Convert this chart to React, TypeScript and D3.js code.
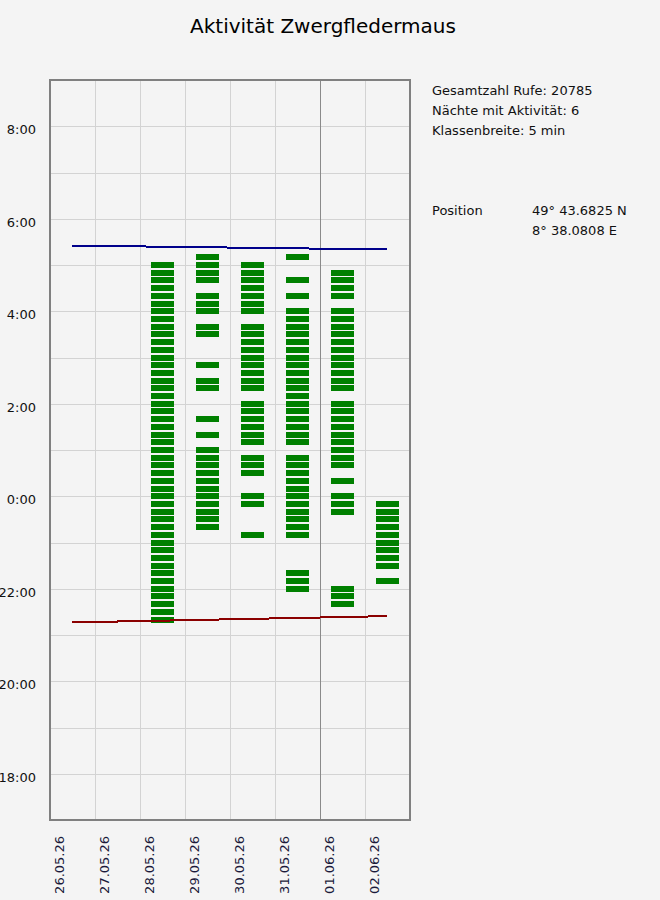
import React, { useEffect, useRef } from "react";
import * as d3 from "d3";

// nights (evening date), one column each
const NIGHTS = ["26.05.26", "27.05.26", "28.05.26", "29.05.26", "30.05.26", "31.05.26", "01.06.26", "02.06.26"];

// sunrise (next morning) / sunset, minutes after midnight
const SUNRISE = [325.2, 324.5, 323.7, 323.0, 322.3, 321.6, 320.8, 320.1];
const SUNSET = [1276.3, 1277.5, 1278.6, 1279.8, 1281.0, 1282.1, 1283.3, 1284.5];

// classes with calls per night
const ACT_2605: string[] = [];
const ACT_2705: string[] = [];
const ACT_2805 = [
  "5:00", "4:50", "4:40", "4:30", "4:20", "4:10", "4:00", "3:50", "3:40", "3:30", "3:20", "3:10",
  "3:00", "2:50", "2:40", "2:30", "2:20", "2:10", "2:00", "1:50", "1:40", "1:30", "1:20", "1:10",
  "1:00", "0:50", "0:40", "0:30", "0:20", "0:10", "0:00", "23:50", "23:40", "23:30", "23:20", "23:10",
  "23:00", "22:50", "22:40", "22:30", "22:20", "22:10", "22:00", "21:50", "21:40", "21:30", "21:20",
];
const ACT_2905 = [
  "5:10", "5:00", "4:50", "4:40", "4:20", "4:10", "4:00", "3:40", "3:30", "2:50", "2:30", "2:20",
  "1:40", "1:20", "1:00", "0:50", "0:40", "0:30", "0:20", "0:10", "0:00", "23:50", "23:40", "23:30", "23:20",
];
const ACT_3005 = [
  "5:00", "4:50", "4:40", "4:30", "4:20", "4:10", "4:00", "3:40", "3:30", "3:20", "3:10", "3:00",
  "2:50", "2:40", "2:30", "2:20", "2:00", "1:50", "1:40", "1:30", "1:20", "1:10", "0:50", "0:40",
  "0:30", "0:00", "23:50", "23:10",
];
const ACT_3105 = [
  "5:10", "4:40", "4:20", "4:00", "3:50", "3:40", "3:30", "3:20", "3:10", "3:00", "2:50", "2:40",
  "2:30", "2:20", "2:10", "2:00", "1:50", "1:40", "1:30", "1:20", "1:10", "0:50", "0:40", "0:30",
  "0:20", "0:10", "0:00", "23:50", "23:40", "23:30", "23:20", "23:10", "22:20", "22:10", "22:00",
];
const ACT_0106 = [
  "4:50", "4:40", "4:30", "4:20", "4:00", "3:50", "3:40", "3:30", "3:20", "3:10", "3:00", "2:50",
  "2:40", "2:30", "2:20", "2:00", "1:50", "1:40", "1:30", "1:20", "1:10", "1:00", "0:50", "0:40",
  "0:20", "0:00", "23:50", "23:40", "22:00", "21:50", "21:40",
];
const ACT_0206 = ["23:50", "23:40", "23:30", "23:20", "23:10", "23:00", "22:50", "22:40", "22:30", "22:10"];
const ACTIVITY = [ACT_2605, ACT_2705, ACT_2805, ACT_2905, ACT_3005, ACT_3105, ACT_0106, ACT_0206];

// hour grid (hours since 0:00 of the evening date) and labelled ticks
const GRID_HOURS = [18, 19, 20, 21, 22, 23, 24, 25, 26, 27, 28, 29, 30, 31, 32];
const TICK_HOURS = [18, 20, 22, 24, 26, 28, 30, 32];
const TICK_LABELS = ["18:00", "20:00", "22:00", "0:00", "2:00", "4:00", "6:00", "8:00"];

const TITLE = "Aktivität Zwergfledermaus";
const INFO = ["Gesamtzahl Rufe: 20785", "Nächte mit Aktivität: 6", "Klassenbreite: 5 min"];
const POS_LABEL = "Position";
const POS_VALUES = ["49° 43.6825 N", "8° 38.0808 E"];

const W = 660;
const H = 900;
const P = { left: 50, right: 410, top: 80, bottom: 820 };
const FONT = "'DejaVu Sans', Verdana, sans-serif";
const BG = "#f4f4f4";

const toNightHours = (s: string) => {
  const [h, m] = s.split(":").map(Number);
  const t = h + m / 60;
  return t < 12 ? t + 24 : t;
};
const minToNight = (m: number) => (m < 720 ? m / 60 + 24 : m / 60);

const App: React.FC = () => {
  const svgRef = useRef<SVGSVGElement>(null);

  useEffect(() => {
    document.body.style.margin = "0";
    document.body.style.background = BG;
    const svg = d3.select(svgRef.current);
    svg.selectAll("*").remove();

    const x = d3.scaleBand<string>().domain(NIGHTS).range([P.left, P.right]).padding(0);
    const y = d3.scaleLinear().domain([17, 33]).range([P.bottom, P.top]);
    const bw = x.bandwidth();

    svg.append("rect").attr("width", W).attr("height", H).attr("fill", BG);

    // grid
    const grid = svg.append("g").attr("shape-rendering", "crispEdges");
    grid.selectAll("line.h")
      .data(GRID_HOURS)
      .join("line")
      .attr("class", "h")
      .attr("x1", P.left).attr("x2", P.right)
      .attr("y1", d => Math.round(y(d)) + 0.5).attr("y2", d => Math.round(y(d)) + 0.5)
      .attr("stroke", "#d3d3d3");
    grid.selectAll("line.v")
      .data(NIGHTS.slice(1))
      .join("line")
      .attr("class", "v")
      .attr("x1", d => Math.round(x(d)!) + 0.5).attr("x2", d => Math.round(x(d)!) + 0.5)
      .attr("y1", P.top).attr("y2", P.bottom)
      // month change gets a darker line
      .attr("stroke", d => (d.startsWith("01.") ? "#8a8a8a" : "#d3d3d3"));

    // activity classes
    const bars = svg.append("g").attr("fill", "#008000").attr("shape-rendering", "crispEdges");
    NIGHTS.forEach((n, i) => {
      bars.selectAll(`rect.n${i}`)
        .data(ACTIVITY[i])
        .join("rect")
        .attr("class", `n${i}`)
        .attr("x", Math.round(x(n)! + 10.5))
        .attr("width", 23)
        .attr("y", d => Math.round(y(toNightHours(d)) - 3))
        .attr("height", 6);
    });

    // sunrise / sunset
    const line = d3.line<number>()
      .x((_, i) => x(NIGHTS[i])! + bw / 2)
      .y(d => y(minToNight(d)));
    svg.append("path")
      .attr("d", line(SUNRISE))
      .attr("fill", "none").attr("stroke", "#00008b").attr("stroke-width", 2)
      .attr("shape-rendering", "crispEdges");
    svg.append("path")
      .attr("d", line(SUNSET))
      .attr("fill", "none").attr("stroke", "#8b0000").attr("stroke-width", 2)
      .attr("shape-rendering", "crispEdges");

    // frame
    svg.append("rect")
      .attr("x", P.left).attr("y", P.top)
      .attr("width", P.right - P.left).attr("height", P.bottom - P.top)
      .attr("fill", "none").attr("stroke", "#808080").attr("stroke-width", 2);

    // y labels
    svg.append("g")
      .selectAll("text")
      .data(TICK_HOURS)
      .join("text")
      .attr("x", 36)
      .attr("y", d => y(d) + 8)
      .attr("text-anchor", "end")
      .attr("font-family", FONT).attr("font-size", 13).attr("fill", "#111")
      .text((_, i) => TICK_LABELS[i]);

    // x labels, rotated
    svg.append("g")
      .selectAll("text")
      .data(NIGHTS)
      .join("text")
      .attr("transform", d => `translate(${x(d)! + 14},836) rotate(-90)`)
      .attr("text-anchor", "end")
      .attr("font-family", FONT).attr("font-size", 13).attr("fill", "#1a1a3a")
      .text(d => d);

    svg.append("text")
      .attr("x", 323).attr("y", 33)
      .attr("text-anchor", "middle")
      .attr("font-family", FONT).attr("font-size", 20).attr("fill", "#000")
      .text(TITLE);

    const info = svg.append("g").attr("font-family", FONT).attr("font-size", 13).attr("fill", "#111");
    info.selectAll("text.i")
      .data(INFO)
      .join("text")
      .attr("class", "i")
      .attr("x", 432).attr("y", (_, i) => 95 + i * 20)
      .text(d => d);
    info.append("text").attr("x", 432).attr("y", 215).text(POS_LABEL);
    info.selectAll("text.p")
      .data(POS_VALUES)
      .join("text")
      .attr("class", "p")
      .attr("x", 532).attr("y", (_, i) => 215 + i * 20)
      .text(d => d);
  }, []);

  return <svg ref={svgRef} width={W} height={H} style={{ display: "block" }} />;
};

export default App;
